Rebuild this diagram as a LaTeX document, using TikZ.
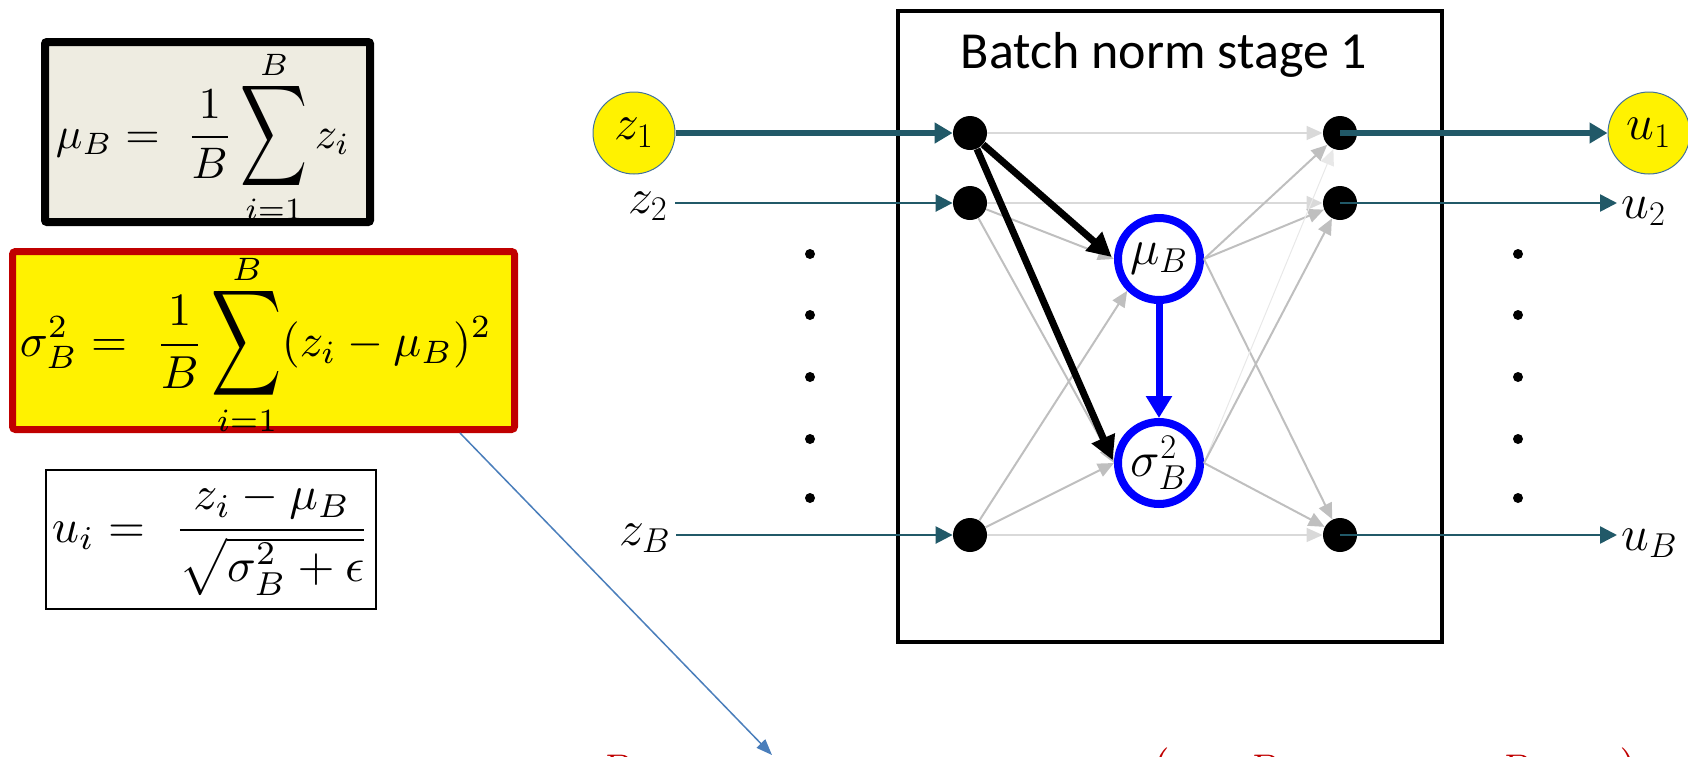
\documentclass[tikz,border=0pt]{standalone}
\usepackage{amsmath}
\usepackage{graphicx}
\usepackage{fontspec}
\newfontfamily\calibri{Carlito}
\usetikzlibrary{arrows.meta}
\definecolor{teal1}{RGB}{33,89,104}
\definecolor{gr1}{RGB}{191,191,191}
\definecolor{gr2}{RGB}{217,217,217}
\definecolor{gr3}{RGB}{232,232,232}
\definecolor{beige}{RGB}{238,236,225}
\definecolor{dred}{RGB}{192,0,0}
\definecolor{lblue}{RGB}{74,126,187}
\definecolor{ygline}{RGB}{65,113,156}
\definecolor{pblue}{RGB}{0,0,255}
\newcommand{\bsum}[2]{\mathop{\vcenter{\offinterlineskip\halign{\hfil##\hfil\cr$\scriptstyle #2$\cr\noalign{\kern0.8pt}\scalebox{1.05}[1.6]{$\displaystyle\sum$}\cr\noalign{\kern1.5pt}$\scriptstyle #1$\cr}}}\nolimits}
\begin{document}
\begin{tikzpicture}[x=0.5pt,y=-0.5pt,
  dotn/.style={circle,fill=black,inner sep=0pt,minimum size=17pt},
  smalldot/.style={circle,fill=black,inner sep=0pt,minimum size=5pt},
  statn/.style={circle,draw=pblue,line width=4pt,fill=white,inner sep=0pt,minimum size=41pt,font=\fontsize{24}{28}\selectfont},
  ycirc/.style={circle,fill=yellow,draw=ygline,line width=0.5pt,inner sep=0pt,minimum size=41pt,font=\fontsize{26}{30}\selectfont},
  lbl/.style={inner sep=0pt,font=\fontsize{26}{30}\selectfont},
  redfrag/.style={inner sep=0pt,text=dred,font=\fontsize{22}{26}\selectfont},
  tthick/.style={draw=teal1,line width=3pt,-{Triangle[length=9pt,width=10pt]}},
  tthin/.style={draw=teal1,line width=1.25pt,-{Triangle[length=8.5pt,width=8.5pt]}},
  gedge/.style={draw=gr1,line width=1pt,-{Triangle[length=8pt,width=7pt]}},
  ledge/.style={draw=gr2,line width=0.75pt,-{Triangle[length=8pt,width=7pt]}},
  fedge/.style={draw=gr3,line width=0.5pt,-{Triangle[length=8pt,width=7pt]}},
  bedge/.style={draw=black,line width=3.5pt,shorten >=1.5pt,-{Triangle[length=12pt,width=12pt]}},
  pedge/.style={draw=pblue,line width=3.5pt,-{Triangle[length=11pt,width=12.5pt]}},
  fbox/.style={inner sep=0pt}
]
\useasboundingbox (0,0) rectangle (1688,756);
\clip (0,0) rectangle (1688,756);

% ---------- left formula boxes ----------
\fill[beige,rounded corners=1pt] (45,42) rectangle (370,222);
\node[fbox] (f1) at (203,137) {\resizebox{147pt}{!}{$\displaystyle \mu_B =\ \frac{1}{B}\bsum{i=1}{B} z_i$}};
\draw[black,line width=4pt,rounded corners=1pt] (45,42) rectangle (370,222);

\draw[dred,fill=yellow,line width=3.5pt,rounded corners=1.5pt] (12.5,251.5) rectangle (514.5,429.5);
\node[fbox] (f2) at (256,345) {\resizebox{236pt}{!}{$\displaystyle \sigma_B^2 =\ \frac{1}{B}\bsum{i=1}{B}(z_i-\mu_B)^2$}};

\draw[black,line width=1pt] (46,470) rectangle (376,609);
\node[fbox,anchor=base] (f3) at (211,542) {\resizebox{159pt}{!}{$\displaystyle u_i =\ \frac{z_i-\mu_B}{\sqrt{\sigma_B^2+\epsilon}}$}};

% ---------- stage box ----------
\draw[black,line width=2pt] (898,11) rectangle (1442,642);
\node[anchor=base,inner sep=0pt,font=\calibri\fontsize{26}{30}\selectfont] (title) at (1164,68) {Batch norm stage 1};

% ---------- nodes ----------
\node[dotn] (L1) at (970,133) {};
\node[dotn] (L2) at (970,203) {};
\node[dotn] (LB) at (970,535) {};
\node[dotn] (R1) at (1340,133) {};
\node[dotn] (R2) at (1340,203) {};
\node[dotn] (RB) at (1340,535) {};
\node[statn] (mu) at (1159,259) {$\mu_B$};
\node[statn] (sg) at (1159,463) {$\sigma_B^2$};

\node[ycirc] (z1) at (634,133) {$z_1$};
\node[lbl,anchor=base east] (z2) at (668,213) {$z_2$};
\node[lbl,anchor=base east] (zB) at (671,545) {$z_B$};
\node[ycirc] (u1) at (1649,133) {$u_1$};
\node[lbl,anchor=base west] (u2) at (1621,218) {$u_2$};
\node[lbl,anchor=base west] (uB) at (1621,550) {$u_B$};

% vertical ellipses
\foreach \yy [count=\k] in {254,315,377,439,498} {
  \node[smalldot] (dl\k) at (810,\yy) {};
  \node[smalldot] (dr\k) at (1518,\yy) {};
}

% ---------- gray connections ----------
\draw[ledge] (L1) -- (R1);
\draw[ledge] (L2) -- (R2);
\draw[ledge] (LB) -- (RB);
\draw[gedge] (L2) -- (mu.west);
\draw[gedge] (L2) -- (sg.west);
\draw[gedge] (LB) -- (mu.south west);
\draw[gedge] (LB) -- (sg.west);
\draw[gedge] (mu.east) -- (R1);
\draw[gedge] (mu.east) -- (R2);
\draw[gedge] (mu.east) -- (RB);
\draw[fedge] (sg.east) -- (R1);
\draw[gedge] (sg.east) -- (R2);
\draw[gedge] (sg.east) -- (RB);

% ---------- highlighted connections ----------
\draw[bedge] (L1) -- (mu.west);
\draw[bedge] (L1) -- (sg.west);
\draw[pedge] (mu) -- (sg);

% ---------- inputs / outputs ----------
\draw[tthick] (z1) -- (L1);
\draw[tthin] ([xshift=3.5pt]z2.east |- L2) -- (L2);
\draw[tthin] ([xshift=2.5pt]zB.east |- LB) -- (LB);
\draw[tthick] (R1.center) -- (u1);
\draw[tthin] (R2.center) -- ([xshift=-2pt]u2.west |- R2);
\draw[tthin] (RB.center) -- ([xshift=-2pt]uB.west |- RB);

% ---------- pointer to the cut-off text ----------
\coordinate (ps) at (460,433);
\coordinate (pe) at (772,755);
\draw[lblue,line width=0.75pt,-{Triangle[length=8pt,width=6pt]}] (ps) -- (pe);

% cut-off red text at the bottom edge
\node[redfrag,anchor=base west] (rt1) at (598,783) {$B$};
\node[redfrag,anchor=base west] (rt2) at (1150,783) {$\big($};
\node[redfrag,anchor=base west] (rt3) at (1245,783) {$B$};
\node[redfrag,anchor=base west] (rt4) at (1497,783) {$B$};
\node[redfrag,anchor=base west] (rt5) at (1620,783) {$\big)$};
\end{tikzpicture}
\end{document}
